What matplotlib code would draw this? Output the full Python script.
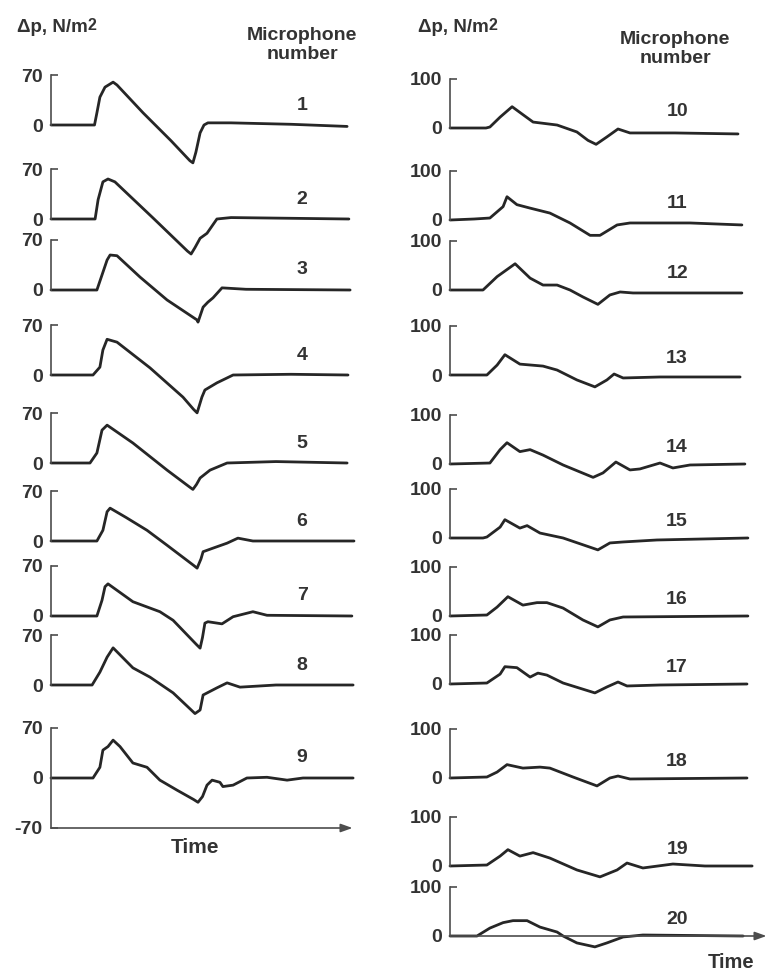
import matplotlib
matplotlib.use('Agg')
import matplotlib.pyplot as plt
from matplotlib import font_manager

# Sonic boom signatures recorded along the microphone array
# time in arbitrary units (0..100 across each trace), dp in N/m^2

mic1_t = [0, 14.5, 15.3, 16.3, 18, 20.7, 22, 30.7, 40, 46.3, 47.3, 48.3, 49.7, 51, 52.3, 60, 80, 98.7]
mic1_dp = [0, 0, 17, 39, 53, 60, 56, 17, -22, -50, -53, -38, -11, 0, 3, 3, 1, -2]

mic2_t = [0, 14.7, 15.7, 17.3, 19, 21.3, 34, 45.5, 46.7, 48, 49.7, 52, 55.3, 60, 80, 99.3]
mic2_dp = [0, 0, 27, 52, 56, 52, 1.5, -45, -49, -40, -27, -20, 0, 2, 1, 0]

mic3_t = [0, 15.3, 17, 18.7, 19.7, 22, 29.7, 38.7, 48.7, 49, 50.7, 52.3, 54, 57, 65, 99.7]
mic3_dp = [0, 0, 21, 42, 49, 48, 18, -14, -42, -45, -24, -17, -11, 3, 1, 0]

mic4_t = [0, 14, 16.3, 17.3, 18.7, 22, 33, 44, 47.5, 48.7, 50.3, 51.3, 55.3, 60.7, 80, 99]
mic4_dp = [0, 0, 11, 35, 50, 46, 10, -31, -48, -53, -31, -21, -11, 0, 1, 0]

mic5_t = [0, 13, 15.3, 17, 18.7, 27.3, 38.7, 46, 47.3, 48.5, 49.7, 53, 58.7, 75, 98.7]
mic5_dp = [0, 0, 14, 46, 53, 28, -10, -33, -37, -30, -21, -10, 0, 2, 0]

mic6_t = [0, 15.3, 17.3, 18.7, 19.7, 25, 32, 38.7, 47.5, 48.7, 50, 50.7, 54, 58.7, 62.3, 67.3, 101]
mic6_dp = [0, 0, 15, 41, 46, 33, 15, -6, -34, -38, -25, -15, -10, -3, 4, 0, 0]

mic7_t = [0, 15.3, 17, 18, 19, 27.3, 36.3, 40.7, 48.5, 49.7, 50.5, 51.3, 52.3, 57, 60.7, 67.3, 72, 100.3]
mic7_dp = [0, 0, 22, 41, 45, 20, 6, -6, -40, -45, -30, -10, -8, -11, -1, 6, 1, 0]

mic8_t = [0, 13.7, 16.3, 18.7, 20.7, 27.3, 33, 40.7, 46.5, 48, 49.7, 50.7, 55.3, 58.7, 63, 75, 100.7]
mic8_dp = [0, 0, 18, 39, 52, 24, 11, -11, -34, -40, -35, -14, -4, 3, -3, 0, 0]

mic9_t = [0, 14, 16.3, 17.3, 19, 20.7, 23, 27.3, 32, 36.3, 42, 47.5, 49, 50.5, 52, 53.7,
          56.3, 57.3, 60.7, 65.3, 72, 78.7, 84, 100.7]
mic9_dp = [0, 0, 15, 39, 44, 53, 44, 21, 15, -3, -17, -30, -34, -26, -10, -3,
           -6, -12, -10, 0, 1, -3, 0, 0]

mic10_t = [0, 12, 13.3, 16.7, 20.7, 24.3, 27.7, 35.7, 42.3, 46, 48.7, 52.3, 56, 60, 75, 96]
mic10_dp = [0, 0, 2, 22, 43, 27, 12, 6, -8, -25, -33, -18, -2, -10, -10, -12]

mic11_t = [0, 8, 13.3, 17.7, 19, 22.3, 26.7, 33.3, 40, 46.7, 50, 55.7, 60, 80, 97.3]
mic11_dp = [0, 2, 4, 27, 47, 31, 24, 14, -6, -31, -31, -10, -6, -6, -10]

mic12_t = [0, 11, 15.7, 21.7, 26.7, 31, 35.7, 40, 44.3, 49.3, 53.3, 56.7, 61, 97.3]
mic12_dp = [0, 0, 27, 53, 24, 10, 10, 0, -14, -29, -10, -4, -6, -6]

mic13_t = [0, 12.3, 15.7, 18.3, 23.3, 31, 35.7, 42.3, 48.3, 52.3, 54.7, 57.7, 70, 96.7]
mic13_dp = [0, 0, 20, 41, 22, 18, 10, -10, -24, -10, 2, -6, -4, -4]

mic14_t = [0, 13.3, 16.7, 19, 23.3, 26.7, 31, 37.7, 47.7, 51, 55.3, 60, 63.3, 70, 74.3, 80, 98.3]
mic14_dp = [0, 2, 29, 43, 25, 29, 18, -2, -27, -18, 4, -12, -10, 2, -8, -2, 0]

mic15_t = [0, 11, 12.3, 16.7, 18.3, 23.3, 25.7, 30, 37.7, 49.3, 53.3, 57.7, 69, 99.3]
mic15_dp = [0, 0, 2, 22, 37, 20, 25, 10, 0, -24, -10, -8, -4, 0]

mic16_t = [0, 12.3, 15.7, 19.3, 24.3, 29, 32.3, 37.7, 44.3, 49.3, 53.3, 57.7, 99.3]
mic16_dp = [0, 2, 18, 39, 22, 27, 27, 16, -8, -22, -8, -2, 0]

mic17_t = [0, 12.3, 16.7, 18.3, 22.3, 26.7, 29.3, 32.3, 37.7, 48.3, 52.3, 56, 59, 70, 99]
mic17_dp = [0, 2, 20, 35, 33, 14, 22, 18, 2, -18, -6, 4, -4, -2, 0]

mic18_t = [0, 12.3, 15.7, 19, 24.3, 30, 33.3, 41, 49, 53.3, 56, 60, 99]
mic18_dp = [0, 2, 12, 27, 20, 22, 20, 2, -16, 0, 4, -2, 0]

mic19_t = [0, 12.3, 16.7, 19.3, 23.3, 27.7, 33.3, 42.3, 50, 55.7, 59, 64.3, 74.3, 85, 100.7]
mic19_dp = [0, 2, 20, 33, 20, 27, 16, -8, -22, -8, 6, -4, 4, 0, 0]

mic20_t = [0, 9, 13.3, 17.7, 21, 25.7, 30, 35.7, 37.7, 42.3, 48.3, 52.3, 57.7, 64.3, 97.7]
mic20_dp = [0, 0, 16, 27, 31, 31, 18, 8, 0, -14, -22, -14, -2, 2, 0]

left_mics = [1, 2, 3, 4, 5, 6, 7, 8, 9]
right_mics = [10, 11, 12, 13, 14, 15, 16, 17, 18, 19, 20]
left_scale = 70     # tick value on the left column
right_scale = 100   # tick value on the right column

traces = {
    1: (mic1_t, mic1_dp), 2: (mic2_t, mic2_dp), 3: (mic3_t, mic3_dp),
    4: (mic4_t, mic4_dp), 5: (mic5_t, mic5_dp), 6: (mic6_t, mic6_dp),
    7: (mic7_t, mic7_dp), 8: (mic8_t, mic8_dp), 9: (mic9_t, mic9_dp),
    10: (mic10_t, mic10_dp), 11: (mic11_t, mic11_dp), 12: (mic12_t, mic12_dp),
    13: (mic13_t, mic13_dp), 14: (mic14_t, mic14_dp), 15: (mic15_t, mic15_dp),
    16: (mic16_t, mic16_dp), 17: (mic17_t, mic17_dp), 18: (mic18_t, mic18_dp),
    19: (mic19_t, mic19_dp), 20: (mic20_t, mic20_dp),
}

# ---- layout (pixels on a 767 x 973 canvas) ----
W, H = 767, 973
LEFT_X0, RIGHT_X0, PANEL_W = 51, 450, 300
LEFT_ZERO_Y = [125, 219, 290, 375, 463, 541, 616, 685, 778]
RIGHT_ZERO_Y = [128, 220, 290, 375, 464, 538, 616, 684, 778, 866, 936]
LEFT_H = 100    # px for +-70
RIGHT_H = 99    # px for +-100

# a narrow face if there is one, plain Liberation otherwise
names = {f.name for f in font_manager.fontManager.ttflist}
COND = 'Liberation Sans Narrow' if 'Liberation Sans Narrow' in names else 'Liberation Sans'
WIDE = 'Liberation Sans' if 'Liberation Sans' in names else 'DejaVu Sans'

plt.rcParams['font.family'] = [COND, 'DejaVu Sans']
plt.rcParams['font.weight'] = 'bold'

TRACE = '#262626'
AXC = '#4d4d4d'
TXT = '#333333'

fig = plt.figure(figsize=(W / 100, H / 100), dpi=100)
fig.patch.set_facecolor('white')


def make_panel(x0, zero_y, hpx, scale, mic, label_t, label_dp, bottom_axis=False):
    ax = fig.add_axes([x0 / W, (H - zero_y - hpx / 2) / H, PANEL_W / W, hpx / H])
    ax.patch.set_alpha(0)
    ax.set_xlim(0, 100)
    ax.set_ylim(-scale, scale)
    for s in ['top', 'right', 'bottom']:
        ax.spines[s].set_visible(False)
    ax.spines['left'].set_color(AXC)
    ax.spines['left'].set_linewidth(1.2)
    lo = -scale if bottom_axis else 0
    ax.spines['left'].set_bounds(lo, scale)
    ticks = [0, scale] if lo == 0 else [lo, 0, scale]
    ax.set_yticks(ticks)
    ax.set_yticklabels([str(v) for v in ticks])
    ax.set_xticks([])
    ax.tick_params(axis='y', direction='in', length=5, width=1.2, color=AXC,
                   labelsize=14, labelcolor=TXT, pad=6)
    t, dp = traces[mic]
    ax.plot(t, dp, color=TRACE, lw=2.0, solid_joinstyle='round', solid_capstyle='round',
            clip_on=False)
    ax.text(label_t, label_dp, str(mic), ha='center', va='center', fontsize=14,
            color=TXT)
    return ax


def time_arrow(ax, x_end, y):
    ax.annotate('', xy=(x_end, y), xytext=(0, y), annotation_clip=False,
                arrowprops=dict(arrowstyle='-|>,head_length=0.7,head_width=0.25',
                                color=AXC, lw=1.2, shrinkA=0, shrinkB=0))


for mic, zy in zip(left_mics, LEFT_ZERO_Y):
    last = mic == left_mics[-1]
    ax = make_panel(LEFT_X0, zy, LEFT_H, left_scale, mic, 83.7, 28, bottom_axis=last)
    if last:
        time_arrow(ax, 100.5, -left_scale)

for mic, zy in zip(right_mics, RIGHT_ZERO_Y):
    ax = make_panel(RIGHT_X0, zy, RIGHT_H, right_scale, mic, 75.7, 33)
    if mic == right_mics[-1]:
        time_arrow(ax, 105.5, 0)

# column headers
for x_dp, x_mic, y_mic in [(17, 302, 45), (418, 675, 49)]:
    hdr = fig.text(x_dp / W, 1 - 32 / H, 'Δp, N/m', fontsize=13.5,
                   family=[WIDE, 'DejaVu Sans'], color=TXT, va='baseline', ha='left')
    fig.axes[0].annotate('2', xy=(1, 0.36), xycoords=hdr, fontsize=11.5,
                         family=[WIDE, 'DejaVu Sans'], color=TXT,
                         ha='left', va='baseline', annotation_clip=False)
    fig.text(x_mic / W, 1 - y_mic / H, 'Microphone\nnumber', fontsize=14, color=TXT,
             ha='center', va='center', multialignment='center', linespacing=1.15)

fig.text(195 / W, 1 - 853 / H, 'Time', fontsize=15, color=TXT, ha='center', va='baseline')
fig.text(731 / W, 1 - 972 / H, 'Time', fontsize=14.5, color=TXT, ha='center', va='bottom')

fig.savefig('out.png', dpi=100, facecolor='white')
